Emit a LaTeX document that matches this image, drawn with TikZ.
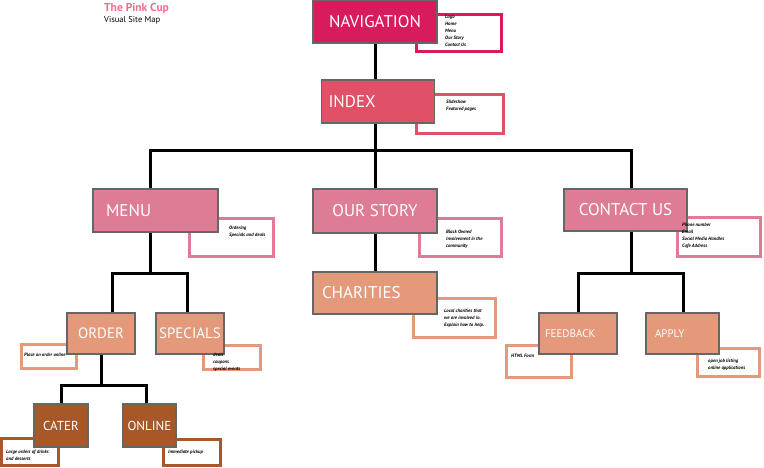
\documentclass[tikz,border=0pt]{standalone}
\usepackage{fontspec}
\setmainfont{PT Sans}
\usepackage{xcolor}
\usetikzlibrary{positioning}
\definecolor{navcol}{HTML}{D81B5C}
\definecolor{indexcol}{HTML}{E05167}
\definecolor{pinkcol}{HTML}{DE7B95}
\definecolor{salmoncol}{HTML}{E3997A}
\definecolor{browncol}{HTML}{A85728}
\definecolor{titlecol}{HTML}{F26D8D}

\begin{document}
\begin{tikzpicture}[x=1pt, y=-1pt,
  page/.style={draw=black!60, line width=1.2pt, fill=#1, text=white, inner sep=0pt, font=\fontsize{17}{17}\selectfont},
  note/.style={draw=#1, fill=white, line width=3.8pt, inner sep=0pt},
  notetext/.style={anchor=north west, align=left, inner sep=0pt, font=\fontsize{4.8}{7}\selectfont\bfseries\itshape},
  link/.style={line width=3pt, black}]
  \useasboundingbox (0,0) rectangle (764,467);

  % title
  \node[anchor=north west, inner sep=0pt, text=titlecol, font=\bfseries\fontsize{11.5}{11.5}\selectfont] (title) at (104,3) {The Pink Cup};
  \node[below=2pt of title.south west, anchor=north west, inner sep=0pt, font=\fontsize{8.5}{8.5}\selectfont] (subtitle) {Visual Site Map};

  % note boxes behind the pages
  \node[note=navcol, minimum width=85, minimum height=37] (navnote) at (459,33) {};
  \node[note=indexcol, minimum width=87, minimum height=39] (indexnote) at (460,114) {};
  \node[note=pinkcol, minimum width=84, minimum height=38] (menunote) at (231.5,237.5) {};
  \node[note=pinkcol, minimum width=82, minimum height=38] (storynote) at (460.5,237.5) {};
  \node[note=pinkcol, minimum width=83, minimum height=39] (contactnote) at (719,237) {};
  \node[note=salmoncol, minimum width=82, minimum height=39] (charnote) at (454.5,318) {};
  \node[note=salmoncol, minimum width=55, minimum height=24] (ordernote) at (49,356.5) {};
  \node[note=salmoncol, minimum width=57, minimum height=24] (specialsnote) at (232,357.5) {};
  \node[note=salmoncol, minimum width=65, minimum height=32] (feedbacknote) at (539,361.5) {};
  \node[note=salmoncol, minimum width=62, minimum height=28] (applynote) at (728.5,362.5) {};
  \node[note=browncol, minimum width=57, minimum height=27] (caternote) at (30,452) {};
  \node[note=browncol, minimum width=57, minimum height=26] (onlinenote) at (192,452.5) {};

  % pages
  \node[page=navcol, minimum width=124, minimum height=43] (nav) at (375,21.5) {NAVIGATION};
  \node[page=indexcol, minimum height=43, text width=99, inner xsep=7pt, align=left] (index) at (378,101.5) {INDEX};
  \node[page=pinkcol, minimum height=43, text width=99, inner xsep=13pt, align=left] (menu) at (155.5,210.5) {MENU};
  \node[page=pinkcol, minimum width=124, minimum height=44] (story) at (375,211) {OUR STORY};
  \node[page=pinkcol, minimum width=123, minimum height=42] (contact) at (625.5,210) {CONTACT US};
  \node[page=salmoncol, minimum height=42, text width=106, inner xsep=9pt, align=left] (charities) at (375,293) {CHARITIES};
  \node[page=salmoncol, minimum width=68, minimum height=41, font=\fontsize{15}{15}\selectfont] (order) at (101,333.5) {ORDER};
  \node[page=salmoncol, minimum width=68, minimum height=41, font=\fontsize{15}{15}\selectfont] (specials) at (190,333.5) {SPECIALS};
  \node[page=salmoncol, minimum height=41, text width=66, inner xsep=6pt, align=left, font=\fontsize{11}{11}\selectfont] (feedback) at (578,333.5) {FEEDBACK};
  \node[page=salmoncol, minimum height=41, text width=55, inner xsep=9pt, align=left, font=\fontsize{11}{11}\selectfont] (apply) at (682.5,333.5) {APPLY};
  \node[page=browncol, minimum width=54, minimum height=43, font=\fontsize{13}{13}\selectfont] (cater) at (61,425.5) {CATER};
  \node[page=browncol, minimum width=53, minimum height=43, font=\fontsize{13}{13}\selectfont] (online) at (149.5,425.5) {ONLINE};

  % connectors
  \coordinate (busL) at (150,150);
  \coordinate (busR) at (631,150);
  \coordinate (menuL) at (112,273);
  \coordinate (menuR) at (187,273);
  \coordinate (orderL) at (61,385);
  \coordinate (orderR) at (146,385);
  \coordinate (contactL) at (578,273);
  \coordinate (contactR) at (683,273);
  \draw[link] (nav.south) -- (nav.south |- index.north);
  \draw[link] (nav.south |- index.south) -- (nav.south |- story.north);
  \draw[link] (busL |- menu.north) -- (busL) -- (busR) -- (busR |- contact.north);
  \draw[link] (nav.south |- story.south) -- (nav.south |- charities.north);
  \draw[link] (busL |- menu.south) -- (busL |- menuL);
  \draw[link] (menuL |- order.north) -- (menuL) -- (menuR) -- (menuR |- specials.north);
  \draw[link] (order.south) -- (order.south |- orderL);
  \draw[link] (orderL |- cater.north) -- (orderL) -- (orderR) -- (orderR |- online.north);
  \draw[link] (busR |- contact.south) -- (busR |- contactL);
  \draw[link] (contactL |- feedback.north) -- (contactL) -- (contactR) -- (contactR |- apply.north);

  % note texts
  \node[notetext] (navtxt) at (445,15) {Logo\\Home\\Menu\\Our Story\\Contact Us};
  \node[notetext] (indextxt) at (446,100) {Slideshow\\Featured pages};
  \node[notetext] (menutxt) at (229,226) {Ordering\\Specials and deals};
  \node[notetext] (storytxt) at (446,230) {Black Owned\\Involvement in the\\community};
  \node[notetext] (contacttxt) at (682,223) {Phone number\\Email\\Social Media Handles\\Cafe Address};
  \node[notetext] (chartxt) at (444,309) {Local charities that\\we are involved in.\\Explain how to help.};
  \node[notetext] (ordertxt) at (24,353) {Place an order online};
  \node[notetext] (specialstxt) at (213,353) {deals\\coupons\\special events};
  \node[notetext] (feedbacktxt) at (511,354) {HTML Form};
  \node[notetext] (applytxt) at (708,359) {open job listing\\online applications};
  \node[notetext] (catertxt) at (6,450) {Large orders of drinks\\and desserts};
  \node[notetext] (onlinetxt) at (168,450) {Immediate pickup};
\end{tikzpicture}
\end{document}
